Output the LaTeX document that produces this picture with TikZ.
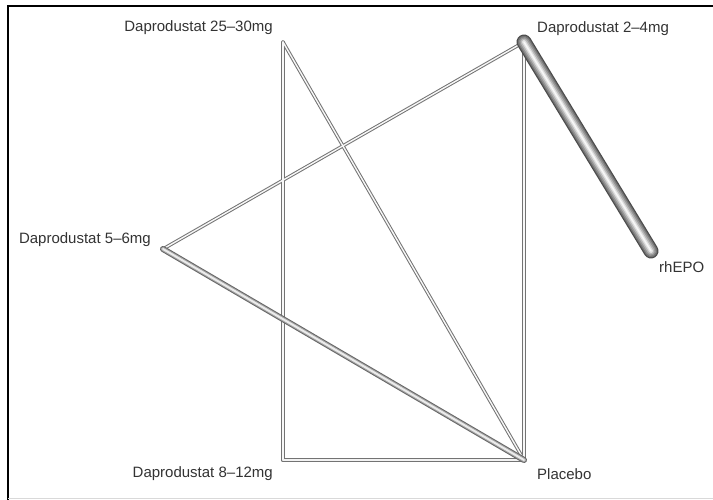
\documentclass[tikz,border=0pt]{standalone}
\usepackage{fontspec}
\setmainfont{Liberation Sans}
\begin{document}
\begin{tikzpicture}[x=1pt,y=-1pt,
  lbl/.style={font=\fontsize{15}{17}\selectfont, text=black!80, inner sep=0pt},
  pt/.style={inner sep=0pt, minimum size=0pt},
  frame/.style={line width=2pt, black}]
\useasboundingbox (0,0) rectangle (713,500);
\fill[white] (0,0) rectangle (713,500);
% frame
\draw[frame] (8,500) -- (8,6.5) -- (713,6.5);
\draw[black!15, line width=1pt] (8,498.5) -- (713,498.5);
% nodes
\node[pt] (d2530) at (283,42) {};
\node[pt] (d24) at (524,42) {};
\node[pt] (d56) at (163,249) {};
\node[pt] (epo) at (651,251) {};
\node[pt] (d812) at (283,460) {};
\node[pt] (pla) at (524,460) {};
% labels
\node[lbl, anchor=east] at (273,28) {Daprodustat 25–30mg};
\node[lbl, anchor=west] at (537,29) {Daprodustat 2–4mg};
\node[lbl, anchor=east] at (151,240) {Daprodustat 5–6mg};
\node[lbl, anchor=west] at (659,267) {rhEPO};
\node[lbl, anchor=east] at (273,474) {Daprodustat 8–12mg};
\node[lbl, anchor=west] at (537,474) {Placebo};
% thin edges
\tikzset{thin edge/.style={line width=3.4pt, black!55, line cap=round},
  thin core/.style={line width=1.4pt, black!3, line cap=round}}
\foreach \a/\b in {d2530/d812, d2530/pla, d24/d56, d24/pla} {
  \draw[thin edge] (\a.center) -- (\b.center);
}
\draw[line width=4.2pt, black!55, line cap=round] (d812.center) -- (pla.center);
\foreach \a/\b in {d2530/d812, d2530/pla, d24/d56, d24/pla} {
  \draw[thin core] (\a.center) -- (\b.center);
}
\draw[line width=2pt, black!5, line cap=round] (d812.center) -- (pla.center);
% medium edge
\draw[line width=6pt, black!60, line cap=round] (d56.center) -- (pla.center);
\draw[line width=4pt, black!35, line cap=round] (d56.center) -- (pla.center);
\draw[line width=2pt, black!8, line cap=round] (d56.center) -- (pla.center);
% thick tube
\draw[line width=15pt, black!70, line cap=round] (d24.center) -- (epo.center);
\draw[line width=12.5pt, black!55, line cap=round] (d24.center) -- (epo.center);
\draw[line width=10pt, black!42, line cap=round] (d24.center) -- (epo.center);
\draw[line width=7pt, black!28, line cap=round] (d24.center) -- (epo.center);
\draw[line width=4pt, black!12, line cap=round] (d24.center) -- (epo.center);
\draw[line width=1.5pt, black!3, line cap=round] (d24.center) -- (epo.center);
\end{tikzpicture}
\end{document}
